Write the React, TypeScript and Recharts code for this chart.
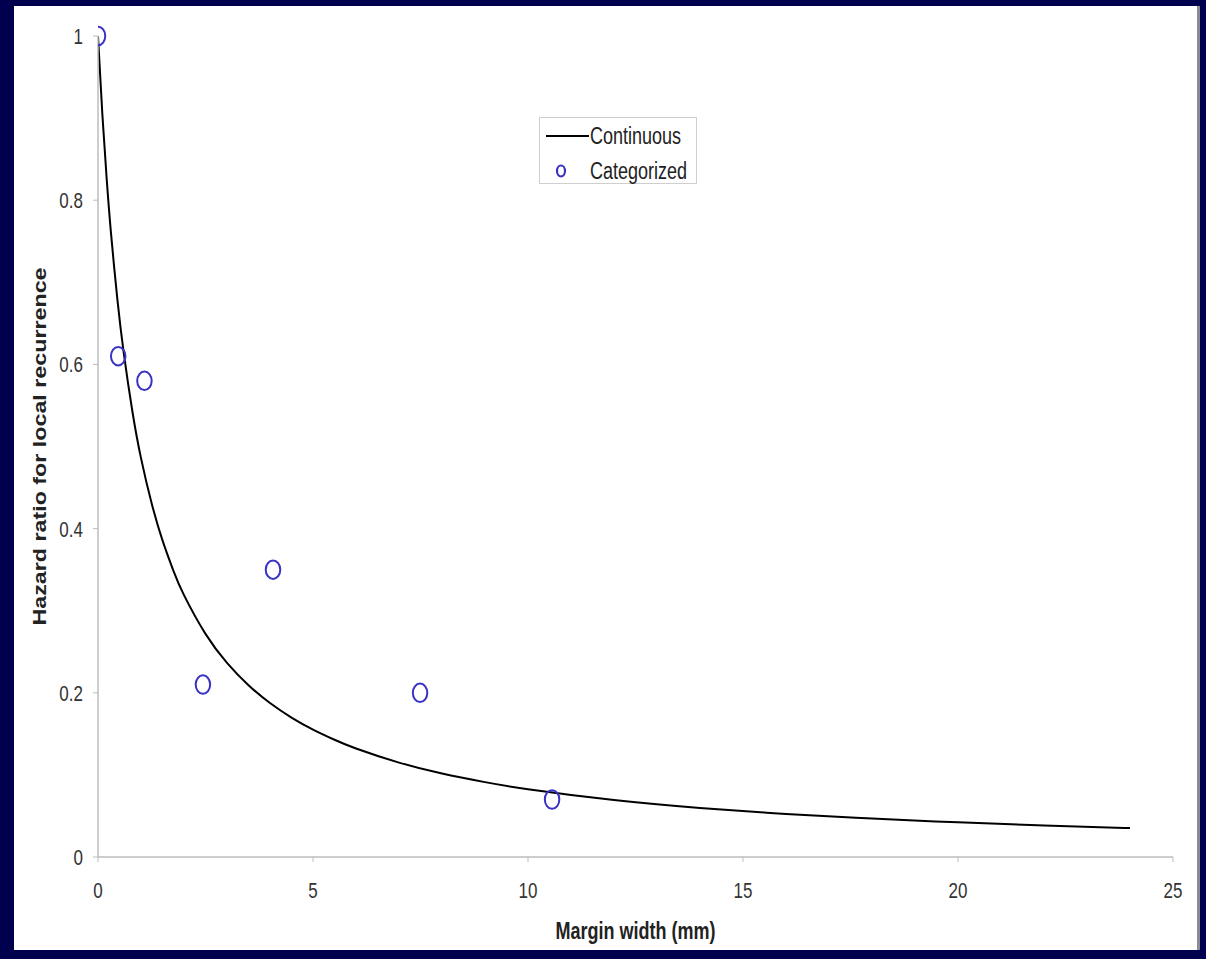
import React from 'react';
import { ComposedChart, Line, Scatter, XAxis, YAxis, Legend, Label } from 'recharts';

// Continuous model curve
const curveX = [0, 0.1, 0.2, 0.3, 0.45, 0.6, 0.8, 1.0, 1.25, 1.5, 1.75, 2, 2.5, 3, 3.5, 4, 4.5, 5, 5.5, 6, 7, 8, 9, 10, 12, 14, 16, 18, 20, 22, 24];
const curveY = [1.0, 0.9056, 0.8273, 0.7612, 0.6794, 0.6134, 0.5426, 0.4858, 0.4303, 0.3856, 0.3492, 0.319, 0.2718, 0.2365, 0.2092, 0.1875, 0.1698, 0.1552, 0.1428, 0.1322, 0.115, 0.1017, 0.0912, 0.0826, 0.0694, 0.0598, 0.0525, 0.0468, 0.0422, 0.0384, 0.0352];

// Categorized estimates
const pointX = [0, 0.47, 1.08, 2.44, 4.07, 7.49, 10.56];
const pointY = [1.0, 0.61, 0.58, 0.21, 0.35, 0.2, 0.07];

const xTicks = [0, 5, 10, 15, 20, 25];
const yTicks = [0, 0.2, 0.4, 0.6, 0.8, 1];

const curveData = curveX.map((x, i) => ({ x, y: curveY[i] }));
const pointData = pointX.map((x, i) => ({ x, y: pointY[i] }));

const FONT = '"Liberation Sans", Arial, Helvetica, sans-serif';
const STRETCH = 1.33;
const POINT_COLOR = '#3a32c6';

const XTick = (p: any) => (
  <g transform={`translate(${p.x},${p.y + 8}) scale(1,${STRETCH})`}>
    <text x={0} y={0} dy="0.35em" textAnchor="middle" fill="#333" fontSize={17} fontFamily={FONT}>
      {p.payload.value}
    </text>
  </g>
);

const YTick = (p: any) => (
  <g transform={`translate(${p.x},${p.y}) scale(1,${STRETCH})`}>
    <text x={0} y={0} dy="0.35em" textAnchor="end" fill="#333" fontSize={17} fontFamily={FONT}>
      {p.payload.value}
    </text>
  </g>
);

const XTitle = (p: any) => {
  const vb = p.viewBox || { x: 84, y: 851, width: 1075, height: 60 };
  const cx = vb.x + vb.width / 2;
  return (
    <g transform={`translate(${cx},925) scale(1,${STRETCH})`}>
      <text x={0} y={0} dy="0.35em" textAnchor="middle" fill="#222" fontSize={18} fontWeight="bold" fontFamily={FONT}>
        Margin width (mm)
      </text>
    </g>
  );
};

const YTitle = (p: any) => {
  const vb = p.viewBox || { x: 24, y: 30, width: 60, height: 821 };
  const cy = vb.y + vb.height / 2;
  return (
    <g transform={`translate(26,${cy}) rotate(-90) scale(${STRETCH},1)`}>
      <text x={0} y={0} dy="0.35em" textAnchor="middle" fill="#222" fontSize={17.5} fontWeight="bold" fontFamily={FONT}>
        Hazard ratio for local recurrence
      </text>
    </g>
  );
};

const Ring = (p: any) => (
  <ellipse cx={p.cx} cy={p.cy} rx={7.25} ry={9.25} fill="none" stroke={POINT_COLOR} strokeWidth={2} />
);

const LegendBox = () => (
  <div
    style={{
      width: 158,
      height: 67,
      boxSizing: 'border-box',
      border: '1px solid #cfcfcf',
      background: '#fff',
      position: 'relative',
      fontFamily: FONT,
      fontSize: 18,
      color: '#222',
    }}
  >
    <svg width={60} height={67} style={{ position: 'absolute', left: 0, top: 0 }}>
      <line x1={6} y1={18} x2={49} y2={18} stroke="#000" strokeWidth={2} />
      <ellipse cx={21} cy={53} rx={4} ry={5.5} fill="none" stroke={POINT_COLOR} strokeWidth={2.2} />
    </svg>
    <div style={{ position: 'absolute', left: 50, top: 18, lineHeight: '18px', marginTop: -9, transform: `scaleY(${STRETCH})`, transformOrigin: 'left center', whiteSpace: 'nowrap' }}>
      Continuous
    </div>
    <div style={{ position: 'absolute', left: 50, top: 53, lineHeight: '18px', marginTop: -9, transform: `scaleY(${STRETCH})`, transformOrigin: 'left center', whiteSpace: 'nowrap' }}>
      Categorized
    </div>
  </div>
);

export default function App() {
  return (
    <div style={{ position: 'absolute', left: 0, top: 0, width: 1206, height: 959, background: '#00004e', overflow: 'hidden' }}>
      <div style={{ position: 'absolute', left: 14, top: 6, width: 1183, height: 944, background: '#fff', borderRight: '3px solid #8c8c98' }}>
        <ComposedChart width={1183} height={944} margin={{ top: 30, right: 24, left: 24, bottom: 33 }}>
          <XAxis
            dataKey="x"
            type="number"
            domain={[0, 25]}
            ticks={xTicks}
            allowDataOverflow
            height={60}
            tick={<XTick />}
            tickSize={5}
            tickMargin={20}
            axisLine={{ stroke: '#bdbdbd', strokeWidth: 1.5 }}
            tickLine={{ stroke: '#bdbdbd' }}
          >
            <Label content={<XTitle />} />
          </XAxis>
          <YAxis
            dataKey="y"
            type="number"
            domain={[0, 1]}
            ticks={yTicks}
            width={60}
            tick={<YTick />}
            tickSize={5}
            tickMargin={10}
            axisLine={{ stroke: '#bdbdbd', strokeWidth: 1.5 }}
            tickLine={{ stroke: '#bdbdbd' }}
          >
            <Label content={<YTitle />} />
          </YAxis>
          <Legend
            layout="vertical"
            align="center"
            verticalAlign="middle"
            content={() => <LegendBox />}
            wrapperStyle={{ left: 525, top: 111, width: 158, height: 67 }}
          />
          <Line
            data={curveData}
            dataKey="y"
            type="natural"
            stroke="#000"
            strokeWidth={2}
            dot={false}
            activeDot={false}
            isAnimationActive={false}
            legendType="line"
            name="Continuous"
          />
          <Scatter
            data={pointData}
            dataKey="y"
            shape={<Ring />}
            isAnimationActive={false}
            name="Categorized"
          />
        </ComposedChart>
      </div>
    </div>
  );
}
